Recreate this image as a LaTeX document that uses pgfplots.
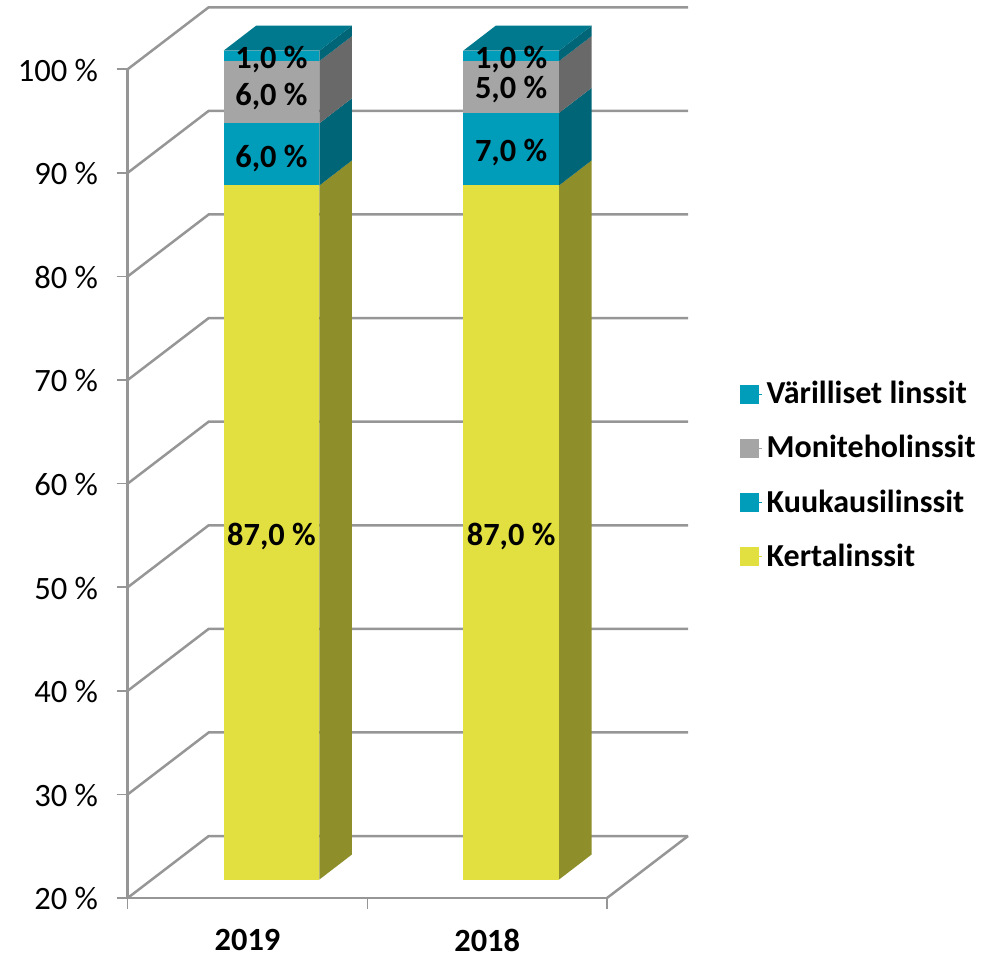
\documentclass[border=0pt]{standalone}
\usepackage{fontspec}
\setmainfont{Carlito}
\usepackage{pgfplots}
\pgfplotsset{compat=1.18}
\definecolor{wallline}{HTML}{969696}
\definecolor{kerta}{HTML}{E2E040}
\definecolor{kertaside}{HTML}{8E8E2A}
\definecolor{kuukausi}{HTML}{009DBB}
\definecolor{kuukausiside}{HTML}{006577}
\definecolor{moni}{HTML}{A5A5A5}
\definecolor{moniside}{HTML}{696969}
\definecolor{topface}{HTML}{00788D}
\newcommand{\wall}[1]{%
  \pgfmathsetmacro{\yb}{#1+5.98}%
  \addplot[wallline, line width=1.25pt, forget plot] coordinates {(0,#1) (0.338,\yb) (2.338,\yb)};%
}
% one stacked piece of a bar: category, from, to, front colour, side colour
\newcommand{\barseg}[5]{%
  \pgfmathsetmacro{\xa}{#1+0.4}%
  \pgfmathsetmacro{\xb}{#1+0.8}%
  \pgfmathsetmacro{\xc}{#1+0.9356}%
  \pgfmathsetmacro{\ya}{#2+1.785}%
  \pgfmathsetmacro{\yb}{#3+1.785}%
  \pgfmathsetmacro{\yc}{#2+4.195}%
  \pgfmathsetmacro{\yd}{#3+4.195}%
  \addplot[fill=#4, draw=none, forget plot] coordinates {(\xa,\ya) (\xb,\ya) (\xb,\yb) (\xa,\yb)};%
  \addplot[fill=#5, draw=none, forget plot] coordinates {(\xb,\ya) (\xc,\yc) (\xc,\yd) (\xb,\yb)};%
}
\newcommand{\bartop}[2]{%
  \pgfmathsetmacro{\xa}{#1+0.4}%
  \pgfmathsetmacro{\xb}{#1+0.8}%
  \pgfmathsetmacro{\xc}{#1+0.9356}%
  \pgfmathsetmacro{\xd}{#1+0.5356}%
  \pgfmathsetmacro{\ya}{#2+1.785}%
  \pgfmathsetmacro{\yb}{#2+4.195}%
  \addplot[fill=topface, draw=none, forget plot] coordinates {(\xa,\ya) (\xb,\ya) (\xc,\yb) (\xd,\yb)};%
}
\begin{document}
\begin{tikzpicture}
\path[use as bounding box] (0,0) rectangle (498pt,479.5pt);
\begin{axis}[
  at={(63.85pt,30.5pt)}, anchor=south west,
  scale only axis, width=239.65pt, height=414.4pt,
  xmin=0, xmax=2, ymin=20, ymax=100,
  clip=false,
  axis x line*=bottom, axis y line*=left,
  axis line style={wallline, line width=1.25pt, -},
  tick style={wallline, line width=0.8pt},
  tick align=outside, major tick length=5.5pt,
  ytick={20,30,...,100},
  yticklabel={\pgfmathprintnumber{\tick}~\%},
  /pgf/number format/assume math mode=true,
  yticklabel style={font=\fontsize{16.3}{17}\selectfont, xshift=-5.8pt, yshift=-0.5pt},
  xtick={0,1,2}, xticklabels={},
  extra x ticks={0.5,1.5}, extra x tick labels={2019,2018},
  extra x tick style={major tick length=0pt,
    xticklabel style={font=\fontsize{16.2}{17}\selectfont\bfseries, yshift=-12pt}},
  legend style={at={(axis cs:2.553,60.8)}, anchor=west, draw=none, fill=none,
    font=\fontsize{16}{17}\selectfont\bfseries, row sep=10.4pt, inner sep=0pt},
  legend cell align=left,
  legend image code/.code={\fill[#1] (0pt,-4.5pt) rectangle (9pt,4.5pt); \path (0pt,0pt) -- (11pt,0pt);},
]
\wall{20}\wall{30}\wall{40}\wall{50}\wall{60}\wall{70}\wall{80}\wall{90}\wall{100}
\addplot[wallline, line width=1.25pt, forget plot] coordinates {(2,20) (2.338,25.98)};

\barseg{0}{20}{87}{kerta}{kertaside}
\barseg{0}{87}{93}{kuukausi}{kuukausiside}
\barseg{0}{93}{99}{moni}{moniside}
\barseg{0}{99}{100}{kuukausi}{kuukausiside}
\bartop{0}{100}

\barseg{1}{20}{87}{kerta}{kertaside}
\barseg{1}{87}{94}{kuukausi}{kuukausiside}
\barseg{1}{94}{99}{moni}{moniside}
\barseg{1}{99}{100}{kuukausi}{kuukausiside}
\bartop{1}{100}

\addplot[draw=none, forget plot, nodes near coords, point meta=explicit symbolic,
  every node near coord/.append style={anchor=center, inner sep=0pt, text=black,
    font=\fontsize{16.2}{17}\selectfont\bfseries}]
coordinates {
  (0.6,54.9)  [87,0 \%]
  (0.6,91.4)  [6,0 \%]
  (0.6,97.4)  [6,0 \%]
  (0.6,100.9) [1,0 \%]
  (1.6,54.9)  [87,0 \%]
  (1.6,92.0)  [7,0 \%]
  (1.6,98.0)  [5,0 \%]
  (1.6,100.9) [1,0 \%]
};

\addlegendimage{kuukausi}\addlegendentry{Värilliset linssit}
\addlegendimage{moni}\addlegendentry{Moniteholinssit}
\addlegendimage{kuukausi}\addlegendentry{Kuukausilinssit}
\addlegendimage{kerta}\addlegendentry{Kertalinssit}
\end{axis}
\end{tikzpicture}
\end{document}
